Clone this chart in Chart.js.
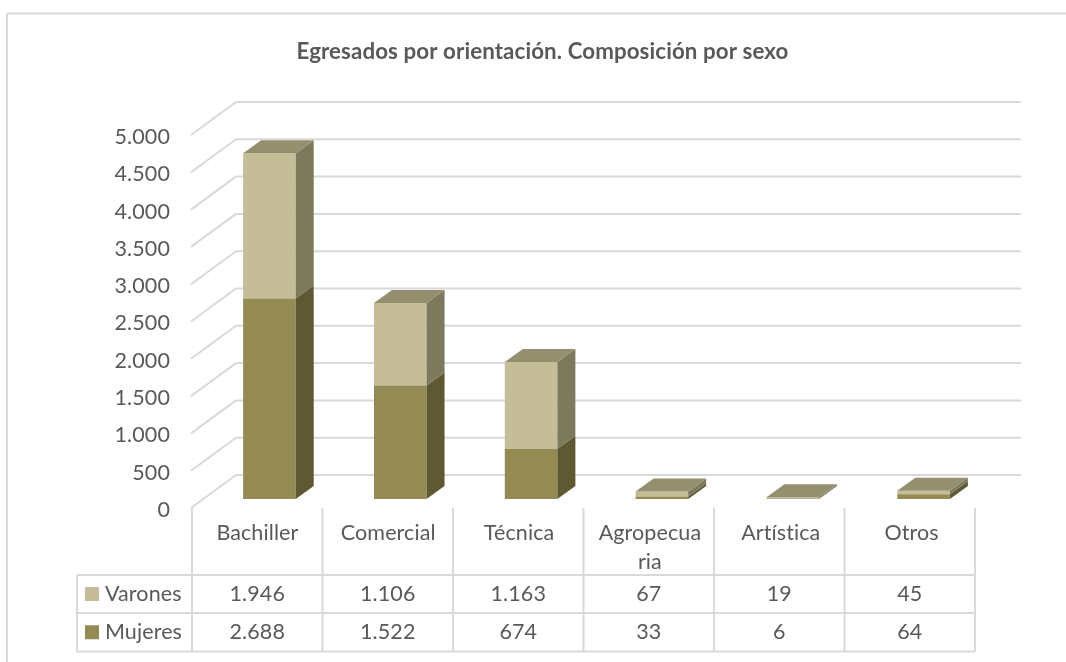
<!DOCTYPE html>
<html lang="es">
<head>
<meta charset="utf-8">
<title>Egresados por orientación</title>
<script src="https://cdn.jsdelivr.net/npm/chart.js@4"></script>
<style>
    html, body { margin: 0; padding: 0; background: #fff; }
    #wrap { width: 1066px; height: 662px; }
</style>
</head>
<body>
<div id="wrap"><canvas id="egresados" width="1066" height="662"></canvas></div>
<script>
const chartTitle = "Egresados por orientación. Composición por sexo";
const categories = ["Bachiller", "Comercial", "Técnica", ["Agropecua", "ria"], "Artística", "Otros"];
const varones = [1946, 1106, 1163, 67, 19, 45];
const mujeres = [2688, 1522, 674, 33, 6, 64];

const FONT = "Lato, 'Open Sans', sans-serif";
const TEXT = "#595959";
const LINE = "#d9d9d9";

// profundidad del efecto 3D
const BAR_DX = 18, BAR_DY = 13;
const WALL_DX = 32, WALL_DY = 24;   // pared del fondo respecto al plano de las barras
const FRONT_DX = 13, FRONT_DY = 9;  // borde delantero respecto al plano de las barras

// separador de miles como en el original
const fmt = (v) => String(v).replace(/\B(?=(\d{3})+$)/g, ".");

function poly(ctx, pts, color) {
    ctx.fillStyle = color;
    ctx.beginPath();
    pts.forEach((p, i) => (i ? ctx.lineTo(p[0], p[1]) : ctx.moveTo(p[0], p[1])));
    ctx.closePath();
    ctx.fill();
}

function line(ctx, x1, y1, x2, y2) {
    ctx.beginPath();
    ctx.moveTo(x1, y1);
    ctx.lineTo(x2, y2);
    ctx.stroke();
}

// marco, titulo, rejilla y tabla de datos
const frame3d = {
    id: "frame3d",
    beforeDraw(chart) {
        // con algo de espaciado el canvas no junta la "ti" en una ligadura
        chart.ctx.letterSpacing = "0.1px";
    },
    beforeDatasetsDraw(chart) {
        const { ctx, chartArea, scales } = chart;
        ctx.save();
        ctx.strokeStyle = LINE;
        ctx.lineWidth = 2;

        // borde del grafico (arriba e izquierda, el resto queda fuera de la captura)
        line(ctx, 7, 662, 7, 13.5);
        line(ctx, 7, 13.5, 1066, 13.5);

        ctx.fillStyle = TEXT;
        ctx.font = "bold 22.3px " + FONT;
        ctx.textAlign = "center";
        ctx.textBaseline = "middle";
        ctx.fillText(chartTitle, 542.5, 52);

        // rejilla
        const x0 = chartArea.left - FRONT_DX;
        const xBack = chartArea.left + WALL_DX;
        const xEnd = chartArea.right + WALL_DX;
        scales.y.ticks.forEach((t) => {
            const y = scales.y.getPixelForValue(t.value);
            line(ctx, x0, y + FRONT_DY, xBack, y - WALL_DY);
            line(ctx, xBack, y - WALL_DY, xEnd, y - WALL_DY);
        });

        // tabla
        const tableX = x0 + 1;
        const colW = (chartArea.right - chartArea.left - 2) / categories.length;
        const tableLeft = 77;
        const rows = [575, 613, 651.5];
        const top = chartArea.bottom + FRONT_DY;
        rows.forEach((y) => line(ctx, tableLeft, y, tableX + colW * categories.length, y));
        line(ctx, tableLeft, rows[0], tableLeft, rows[2]);
        for (let i = 0; i <= categories.length; i++) {
            line(ctx, tableX + colW * i, top, tableX + colW * i, rows[2]);
        }

        const series = [
            { name: "Varones", values: varones, color: chart.data.datasets[1].backgroundColor },
            { name: "Mujeres", values: mujeres, color: chart.data.datasets[0].backgroundColor },
        ];
        ctx.font = "21.5px " + FONT;
        series.forEach((s, r) => {
            const cy = (rows[r] + rows[r + 1]) / 2;
            ctx.fillStyle = s.color;
            ctx.fillRect(85, cy - 7, 14, 14);
            ctx.fillStyle = TEXT;
            ctx.textAlign = "left";
            ctx.fillText(s.name, 105, cy);
            ctx.textAlign = "center";
            s.values.forEach((v, i) => {
                ctx.fillText(fmt(v), tableX + colW * (i + 0.5), cy);
            });
        });
        ctx.restore();
    },
    afterDatasetsDraw(chart) {
        const { ctx } = chart;
        const lastIdx = chart.data.datasets.length - 1;
        ctx.save();
        chart.data.datasets.forEach((ds, d) => {
            chart.getDatasetMeta(d).data.forEach((bar) => {
                const p = bar.getProps(["x", "y", "base", "width"], true);
                const r = p.x + p.width / 2;
                const l = p.x - p.width / 2;
                // cara lateral
                poly(ctx, [
                    [r, p.y], [r + BAR_DX, p.y - BAR_DY],
                    [r + BAR_DX, p.base - BAR_DY], [r, p.base],
                ], ds.sideColor);
                // cara superior, solo la ultima serie del apilado
                if (d === lastIdx) {
                    poly(ctx, [
                        [l, p.y], [l + BAR_DX, p.y - BAR_DY],
                        [r + BAR_DX, p.y - BAR_DY], [r, p.y],
                    ], ds.topColor);
                }
            });
        });
        ctx.restore();
    },
};

new Chart(document.getElementById("egresados").getContext("2d"), {
    type: "bar",
    data: {
        labels: categories,
        datasets: [
            {
                label: "Mujeres",
                data: mujeres,
                backgroundColor: "#948a54",
                sideColor: "#5e5833",
                topColor: "#7a7346",
            },
            {
                label: "Varones",
                data: varones,
                backgroundColor: "#c4bd97",
                sideColor: "#7d795c",
                topColor: "#948f6e",
            },
        ],
    },
    options: {
        responsive: false,
        animation: false,
        layout: { padding: { top: 126, right: 77, bottom: 0, left: 0 } },
        datasets: { bar: { barPercentage: 0.67, categoryPercentage: 0.6 } },
        plugins: {
            legend: { display: false },
            title: { display: false },
            tooltip: { enabled: false },
        },
        scales: {
            x: {
                stacked: true,
                grid: { display: false, drawTicks: false },
                border: { display: false },
                afterFit: (scale) => { scale.height = 163; },
                ticks: {
                    color: TEXT,
                    font: { family: FONT, size: 21.5, lineHeight: 1.35 },
                    padding: 20,
                    labelOffset: -12,
                    maxRotation: 0,
                    autoSkip: false,
                },
            },
            y: {
                stacked: true,
                min: 0,
                max: 5000,
                grid: { display: false, drawTicks: false },
                border: { display: false },
                afterFit: (scale) => { scale.width = 204; },
                ticks: {
                    stepSize: 500,
                    color: TEXT,
                    font: { family: FONT, size: 21.5 },
                    padding: 34,
                    labelOffset: 11,
                    callback: (v) => fmt(v),
                },
            },
        },
    },
    plugins: [frame3d],
});
</script>
</body>
</html>
